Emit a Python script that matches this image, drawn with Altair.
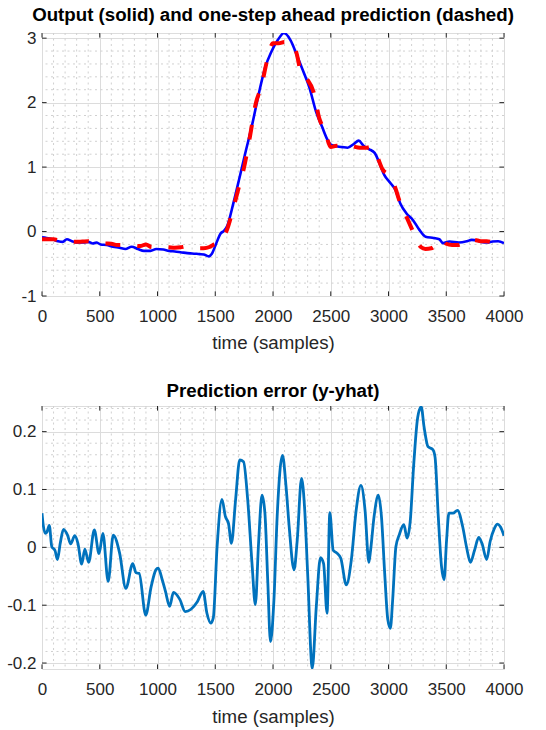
import altair as alt
import pandas as pd

# ---------------- data ----------------
t_out = [0, 40, 90, 140, 180, 215, 260, 300, 360, 400, 441, 470, 508, 560, 615, 670, 722, 776, 830, 883,
         940, 990, 1050, 1100, 1151, 1200, 1258, 1300, 1365, 1400, 1445, 1475, 1505, 1547, 1575, 1602, 1657,
         1712, 1766, 1821, 1876, 1931, 1986, 2041, 2096, 2151, 2206, 2261, 2316, 2371, 2426, 2470, 2500,
         2560, 2600, 2646, 2701, 2742, 2784, 2830, 2880, 2922, 2963, 3018, 3059, 3101, 3156, 3211, 3266,
         3321, 3390, 3440, 3473, 3528, 3610, 3680, 3720, 3770, 3803, 3858, 3900, 3950, 4000]
y_out = [-0.09, -0.10, -0.12, -0.15, -0.16, -0.12, -0.15, -0.17, -0.17, -0.16, -0.185, -0.17, -0.20, -0.21,
         -0.235, -0.25, -0.27, -0.235, -0.27, -0.30, -0.30, -0.27, -0.28, -0.30, -0.31, -0.32, -0.335, -0.34,
         -0.35, -0.355, -0.385, -0.33, -0.20, -0.03, 0.01, 0.08, 0.44, 0.85, 1.26, 1.67, 2.13, 2.54, 2.79,
         2.97, 3.08, 2.97, 2.74, 2.49, 2.23, 1.87, 1.62, 1.43, 1.35, 1.32, 1.31, 1.30, 1.36, 1.41, 1.33,
         1.28, 1.22, 1.06, 0.88, 0.75, 0.65, 0.44, 0.28, 0.18, 0.03, -0.08, -0.10, -0.12, -0.18, -0.155,
         -0.17, -0.15, -0.13, -0.14, -0.16, -0.17, -0.155, -0.15, -0.18]

t_pred = [0, 50, 100, 150, 200, 250, 300, 350, 400, 450, 500, 550, 600, 650, 700, 750, 800, 850, 900, 950,
          1000, 1050, 1100, 1150, 1200, 1250, 1300, 1350, 1400, 1450, 1480, 1520, 1550, 1600, 1650, 1700,
          1750, 1800, 1850, 1900, 1950, 2000, 2050, 2100, 2150, 2200, 2250, 2300, 2350, 2400, 2450, 2500,
          2550, 2600, 2650, 2700, 2750, 2800, 2850, 2900, 2950, 3000, 3050, 3100, 3150, 3200, 3250, 3280,
          3320, 3370, 3420, 3460, 3500, 3550, 3600, 3650, 3700, 3750, 3800, 3850, 3900, 3950, 4000]
y_pred = [-0.12, -0.12, -0.12, -0.14, -0.155, -0.155, -0.16, -0.155, -0.15, -0.18, -0.18, -0.185, -0.19,
          -0.21, -0.21, -0.22, -0.22, -0.225, -0.20, -0.24, -0.235, -0.24, -0.245, -0.25, -0.245, -0.23,
          -0.24, -0.26, -0.26, -0.24, -0.21, -0.18, -0.12, 0.02, 0.32, 0.66, 1.00, 1.47, 1.98, 2.26, 2.66,
          2.92, 2.92, 2.94, 2.94, 2.79, 2.42, 2.35, 2.17, 1.76, 1.56, 1.31, 1.33, 1.33, 1.35, 1.32, 1.30,
          1.30, 1.31, 1.17, 0.96, 0.88, 0.72, 0.45, 0.25, 0.05, -0.15, -0.24, -0.27, -0.26, -0.19, -0.12,
          -0.19, -0.21, -0.21, -0.17, -0.12, -0.13, -0.15, -0.15, -0.17, -0.19, -0.21]

t_err = [0, 11, 30, 44, 63, 85, 112, 134, 158, 186, 221, 248, 284, 311, 344, 371, 404, 453, 494, 527, 573,
         617, 672, 726, 786, 814, 841, 898, 945, 986, 1006, 1041, 1069, 1105, 1138, 1193, 1240, 1290, 1345,
         1395, 1428, 1461, 1483, 1516, 1558, 1588, 1615, 1640, 1676, 1712, 1745, 1781, 1820, 1847, 1875,
         1905, 1930, 1955, 1978, 2008, 2036, 2082, 2113, 2140, 2182, 2210, 2247, 2273, 2300, 2340, 2375,
         2411, 2438, 2468, 2492, 2521, 2554, 2587, 2635, 2678, 2720, 2761, 2797, 2830, 2845, 2875, 2912,
         2939, 2967, 2994, 3016, 3036, 3064, 3092, 3133, 3161, 3189, 3217, 3253, 3283, 3308, 3342, 3384,
         3403, 3431, 3459, 3481, 3503, 3523, 3559, 3597, 3642, 3675, 3709, 3745, 3781, 3809, 3850, 3880,
         3915, 3945, 3970, 4000]
e_err = [0.059, 0.038, 0.024, 0.027, 0.038, 0.001, -0.005, -0.021, 0.007, 0.031, 0.021, 0.006, 0.020,
         0.007, -0.029, -0.003, -0.026, 0.030, -0.011, 0.024, -0.059, 0.021, -0.010, -0.071, -0.028,
         -0.044, -0.045, -0.117, -0.068, -0.039, -0.036, -0.056, -0.076, -0.102, -0.078, -0.090, -0.111,
         -0.107, -0.094, -0.076, -0.114, -0.131, -0.122, 0.001, 0.083, 0.053, 0.041, 0.007, 0.082, 0.151,
         0.148, 0.082, -0.033, -0.099, 0.007, 0.090, 0.059, -0.060, -0.163, -0.091, 0.053, 0.159, 0.105,
         0.036, -0.039, 0.013, 0.119, 0.070, -0.045, -0.209, -0.102, -0.018, -0.028, -0.114, 0.060, -0.005,
         -0.010, -0.019, -0.065, -0.022, 0.064, 0.107, 0.064, -0.026, -0.005, 0.053, 0.090, 0.053, -0.045,
         -0.125, -0.140, -0.091, 0.001, 0.021, 0.039, 0.016, 0.047, 0.139, 0.225, 0.243, 0.208, 0.174,
         0.169, 0.156, 0.053, -0.033, -0.056, 0.013, 0.059, 0.059, 0.064, 0.036, 0.001, -0.026, -0.005,
         0.017, 0.007, -0.021, 0.010, 0.032, 0.040, 0.035, 0.020]

# tick values
x_major = [0, 500, 1000, 1500, 2000, 2500, 3000, 3500, 4000]
x_minor = [100, 200, 300, 400, 600, 700, 800, 900, 1100, 1200, 1300, 1400, 1600, 1700, 1800, 1900,
           2100, 2200, 2300, 2400, 2600, 2700, 2800, 2900, 3100, 3200, 3300, 3400, 3600, 3700, 3800, 3900]
top_y_major = [-1, 0, 1, 2, 3]
top_y_minor = [-0.8, -0.6, -0.4, -0.2, 0.2, 0.4, 0.6, 0.8, 1.2, 1.4, 1.6, 1.8, 2.2, 2.4, 2.6, 2.8]
bot_y_major = [-0.2, -0.1, 0, 0.1, 0.2]
bot_y_minor = [-0.18, -0.16, -0.14, -0.12, -0.08, -0.06, -0.04, -0.02, 0.02, 0.04, 0.06, 0.08,
               0.12, 0.14, 0.16, 0.18, 0.22, 0.24]

# ---------------- styling ----------------
W, H = 462, 263
TL = 4.6
FONT = "Liberation Sans"
AX_COL = "#262626"
GRID_MAJ = "#dcdcdc"
GRID_MIN = "#d0d0d0"

xs = alt.Scale(domain=[0, 4000], nice=False, zero=False)


def x_axis(title_pad):
    return alt.Axis(values=x_major, labelExpr="datum.value + ''", title="time (samples)",
                    grid=True, gridColor=GRID_MAJ, gridWidth=1, ticks=False, domain=False,
                    labelFont=FONT, labelFontSize=17, labelColor=AX_COL, labelPadding=12,
                    labelFlush=False, labelOverlap=False,
                    titleFont=FONT, titleFontSize=18.7, titleFontWeight="normal", titleColor=AX_COL,
                    titlePadding=title_pad)


def y_axis(vals):
    return alt.Axis(values=vals, labelExpr="datum.value + ''", title=None,
                    grid=True, gridColor=GRID_MAJ, gridWidth=1, ticks=False, domain=False,
                    labelFont=FONT, labelFontSize=17, labelColor=AX_COL, labelPadding=6,
                    labelFlush=False, labelOverlap=False)


def panel(ys, y_major, y_minor, lines, title, title_pad):
    xa = x_axis(title_pad)
    ya = y_axis(y_major)
    dxm = pd.DataFrame({"x": x_minor})
    dym = pd.DataFrame({"y": y_minor})
    dxM = pd.DataFrame({"x": x_major})
    dyM = pd.DataFrame({"y": y_major})
    minor_x = alt.Chart(dxm).mark_rule(color=GRID_MIN, strokeDash=[2, 3.5], strokeWidth=1).encode(
        x=alt.X("x:Q", scale=xs, axis=xa))
    minor_y = alt.Chart(dym).mark_rule(color=GRID_MIN, strokeDash=[2, 3.5], strokeWidth=1).encode(
        y=alt.Y("y:Q", scale=ys, axis=ya))
    tick_b = alt.Chart(dxM).mark_rule(color=AX_COL, strokeWidth=1).encode(
        x=alt.X("x:Q", scale=xs, axis=xa), y=alt.value(H), y2=alt.value(H - TL))
    tick_t = alt.Chart(dxM).mark_rule(color=AX_COL, strokeWidth=1).encode(
        x=alt.X("x:Q", scale=xs, axis=xa), y=alt.value(0), y2=alt.value(TL))
    tick_l = alt.Chart(dyM).mark_rule(color=AX_COL, strokeWidth=1).encode(
        y=alt.Y("y:Q", scale=ys, axis=ya), x=alt.value(0), x2=alt.value(TL))
    tick_r = alt.Chart(dyM).mark_rule(color=AX_COL, strokeWidth=1).encode(
        y=alt.Y("y:Q", scale=ys, axis=ya), x=alt.value(W), x2=alt.value(W - TL))
    layers = []
    for ln in lines:
        layers.append(ln.encode(x=alt.X("t:Q", scale=xs, axis=xa), y=alt.Y("v:Q", scale=ys, axis=ya)))
    return alt.layer(minor_x, minor_y, *layers, tick_b, tick_t, tick_l, tick_r).properties(
        width=W, height=H,
        title=alt.TitleParams(title, font=FONT, fontSize=18.7, fontWeight="bold", color="black",
                              anchor="middle", offset=4.5))


# ---------------- top panel ----------------
ys_top = alt.Scale(domain=[-1, 3.08], nice=False, zero=False)
df_out = pd.DataFrame({"t": t_out, "v": y_out})
df_pred = pd.DataFrame({"t": t_pred, "v": y_pred})
out_line = alt.Chart(df_out).mark_line(color="#0000FF", strokeWidth=2.6, interpolate="monotone", clip=True)
pred_line = alt.Chart(df_pred).mark_line(color="#FF0000", strokeWidth=4, strokeDash=[15, 17],
                                         interpolate="monotone", clip=True)
top = panel(ys_top, top_y_major, top_y_minor, [out_line, pred_line],
            "Output (solid) and one-step ahead prediction (dashed)", 9)

# ---------------- bottom panel ----------------
ys_bot = alt.Scale(domain=[-0.2103, 0.2443], nice=False, zero=False)
df_err = pd.DataFrame({"t": t_err, "v": e_err})
err_line = alt.Chart(df_err).mark_line(color="#0072BD", strokeWidth=2.8, interpolate="monotone", clip=True)
bottom = panel(ys_bot, bot_y_major, bot_y_minor, [err_line], "Prediction error (y-yhat)", 10)

chart = alt.vconcat(top, bottom, spacing=110, bounds="flush").properties(
    padding={"left": 6, "top": 5, "right": 5, "bottom": 5}
).configure_view(stroke=AX_COL, strokeWidth=1.2).configure(background="white")

chart.save("out.html", embed_options={"renderer": "svg", "actions": False})
